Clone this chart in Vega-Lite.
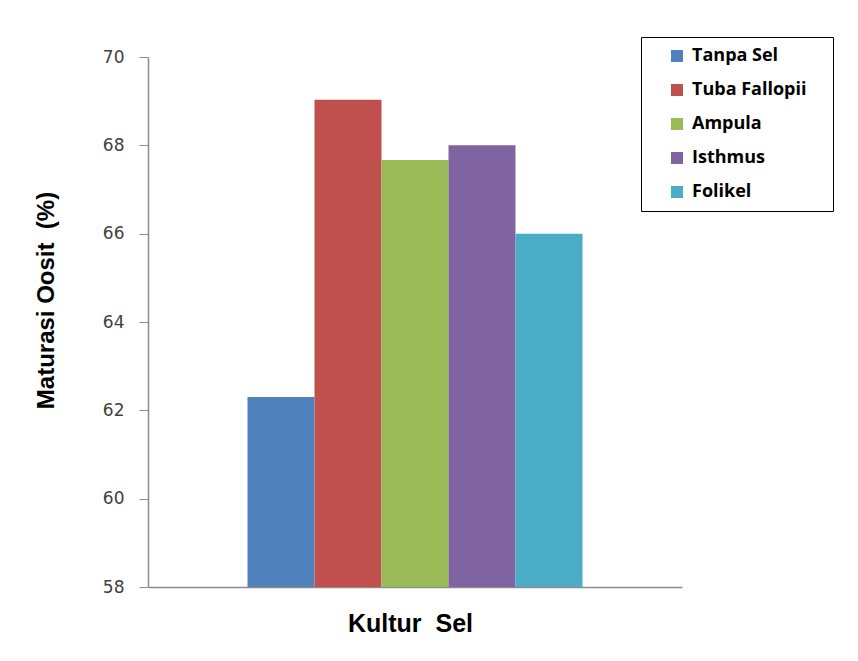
{
  "$schema": "https://vega.github.io/schema/vega-lite/v6.json",
  "width": 534,
  "height": 530,
  "autosize": {"type": "none"},
  "padding": {"left": 148, "top": 57, "right": 176, "bottom": 74},
  "background": "white",
  "data": {
    "values": [
      {"kelompok": "Kultur Sel", "seri": "Tanpa Sel", "nilai": 62.3},
      {"kelompok": "Kultur Sel", "seri": "Tuba Fallopii", "nilai": 69.03},
      {"kelompok": "Kultur Sel", "seri": "Ampula", "nilai": 67.67},
      {"kelompok": "Kultur Sel", "seri": "Isthmus", "nilai": 68.0},
      {"kelompok": "Kultur Sel", "seri": "Folikel", "nilai": 66.0}
    ]
  },
  "mark": {"type": "bar", "clip": true},
  "encoding": {
    "x": {
      "field": "kelompok",
      "type": "nominal",
      "scale": {"paddingInner": 0, "paddingOuter": 0.297},
      "axis": {
        "title": "Kultur \u00a0Sel",
        "labels": false,
        "ticks": false,
        "domainColor": "#8c8c8c",
        "domainWidth": 1.5,
        "titleFont": "Liberation Sans",
        "titleFontSize": 25,
        "titleFontWeight": "bold",
        "titleColor": "black",
        "titleX": 262,
        "titleY": 36,
        "titleBaseline": "middle",
        "titleAlign": "center"
      }
    },
    "xOffset": {
      "field": "seri",
      "type": "nominal",
      "sort": ["Tanpa Sel", "Tuba Fallopii", "Ampula", "Isthmus", "Folikel"],
      "scale": {"paddingInner": 0, "paddingOuter": 0}
    },
    "y": {
      "field": "nilai",
      "type": "quantitative",
      "scale": {"domain": [58, 70], "zero": false, "nice": false},
      "axis": {
        "title": "Maturasi Oosit \u00a0(%)",
        "values": [58, 60, 62, 64, 66, 68, 70],
        "grid": false,
        "domainColor": "#8c8c8c",
        "domainWidth": 1.5,
        "tickColor": "#8c8c8c",
        "tickSize": 9,
        "labelPadding": 15,
        "labelFont": "DejaVu Sans",
        "labelFontSize": 17,
        "labelColor": "#404040",
        "titleFont": "Liberation Sans",
        "titleFontSize": 24,
        "titleFontWeight": "bold",
        "titleColor": "black",
        "titleX": -102,
        "titleY": 243,
        "titleAngle": -90,
        "titleAlign": "center",
        "titleBaseline": "middle"
      }
    },
    "color": {
      "field": "seri",
      "type": "nominal",
      "sort": ["Tanpa Sel", "Tuba Fallopii", "Ampula", "Isthmus", "Folikel"],
      "scale": {
        "domain": ["Tanpa Sel", "Tuba Fallopii", "Ampula", "Isthmus", "Folikel"],
        "range": ["#4F81BD", "#C0504D", "#9BBB59", "#8064A2", "#4BACC6"]
      },
      "legend": {
        "title": ".",
        "titleOrient": "right",
        "titleColor": "white",
        "titleFontSize": 10,
        "titlePadding": 14,
        "orient": "none",
        "legendX": 493,
        "legendY": -20,
        "strokeColor": "black",
        "fillColor": "white",
        "padding": 10,
        "symbolType": "square",
        "symbolSize": 144,
        "symbolOffset": 17,
        "symbolStrokeWidth": 0,
        "labelFont": "Open Sans",
        "labelFontSize": 18,
        "labelFontWeight": "bold",
        "labelColor": "black",
        "labelOffset": 6,
        "rowPadding": 16,
        "labelLimit": 300
      }
    }
  },
  "config": {"view": {"stroke": null}}
}
